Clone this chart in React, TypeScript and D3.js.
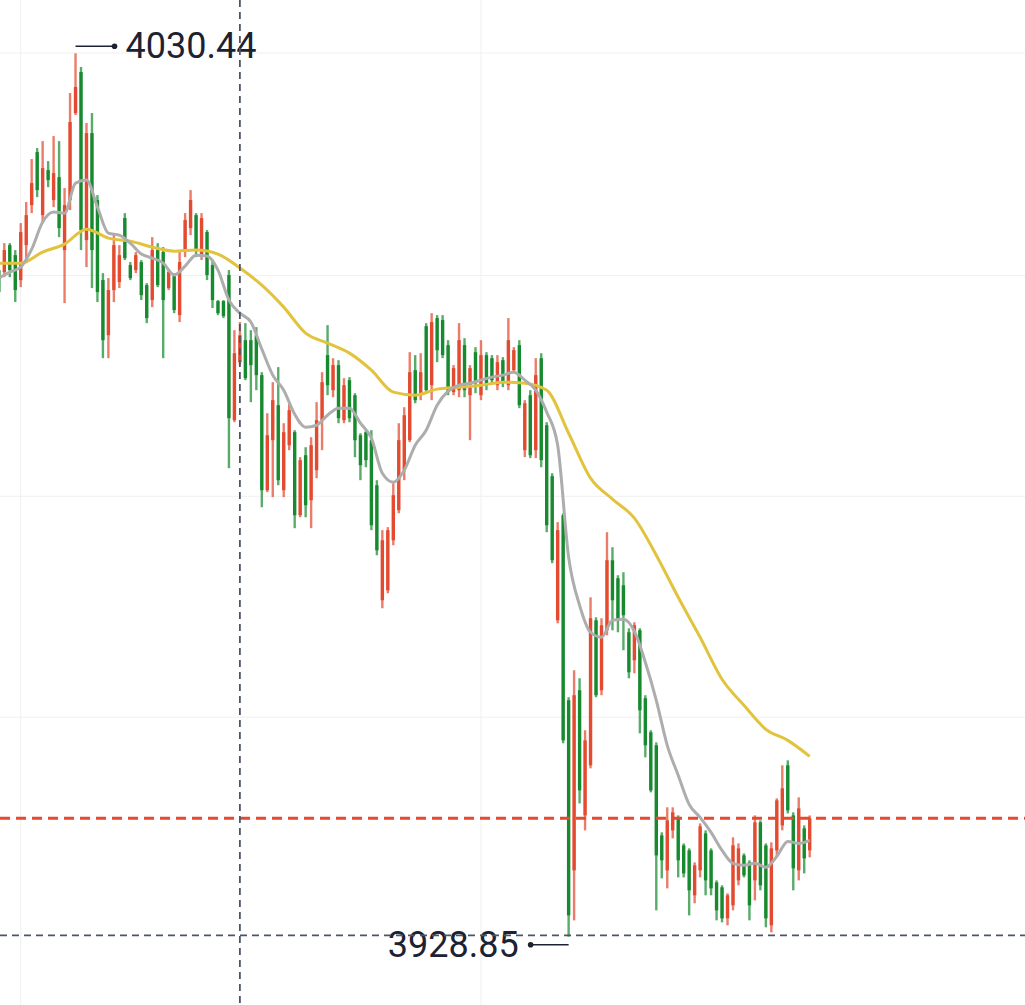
import React from "react";
import * as d3 from "d3";

const W = 1025;
const H = 1005;

// OHLC, one entry per candle (index 0 is the half-visible candle at the left edge)
const opens = [4005.51,4005.28,4008.38,4007.23,4004.36,4008.38,4012.98,4019.08,4011.83,4017.01,4013.56,4016.2,4007.81,4013.56,4023.57,4028.29,4008.96,4021.26,4013.56,4004.36,3998.02,4003.21,4004.13,4011.49,4006.08,4005.51,4006.43,4003.78,4002.06,4007.81,4007.58,4003.44,4004.82,4000.33,4007.81,4010.34,4011.83,4007.23,4009.88,4006.08,4001.94,4001.94,4004.94,3988.25,3994.92,3997.45,3997.45,3998.02,3993.43,3980.2,3985.95,3989.97,3980.2,3985.37,3986.87,3977.32,3984.22,3979.05,3982.5,3988.25,3995.73,3991.7,3994.58,3988.25,3992.85,3991.12,3986.52,3986.87,3985.95,3980.77,3967.54,3968.69,3974.44,3977.9,3982.5,3985.95,3994.0,3991.12,3999.06,3992.27,3999.99,3999.76,3996.88,3991.47,3991.7,3996.88,3991.12,3996.07,3991.12,3995.73,3995.38,3992.27,3995.15,3992.27,3994.0,3996.88,3984.8,3991.12,3984.8,3995.38,3987.67,3981.81,3965.24,3977.32,3956.04,3936.48,3957.19,3942.8,3948.56,3965.24,3957.19,3964.09,3972.14,3970.07,3969.26,3963.86,3960.64,3964.09,3956.27,3952.36,3950.86,3940.5,3936.48,3941.08,3942.46,3939.35,3938.78,3933.61,3936.48,3940.73,3938.78,3935.1,3934.53,3930.96,3932.46,3935.33,3938.2,3937.4,3935.33,3942.0,3939.35,3930.16,3938.78,3941.65,3948.56,3942.8,3936.48,3941.31,3938.78];
const highs = [4006.43,4008.61,4008.61,4007.81,4010.91,4013.33,4018.28,4019.54,4020.34,4018.04,4020.92,4020.34,4014.94,4025.87,4030.44,4028.87,4022.42,4023.57,4014.13,4005.16,4004.59,4009.76,4008.38,4012.06,4006.43,4007.58,4006.66,4004.01,4009.3,4008.61,4008.15,4005.51,4005.16,4007.81,4012.06,4014.71,4012.06,4012.06,4010.11,4006.66,4002.06,4002.06,4005.51,3998.6,3999.53,3999.41,3998.6,3998.95,3993.77,3989.05,3992.62,3994.35,3987.9,3990.2,3987.1,3984.0,3985.14,3986.29,3990.32,3993.77,3999.18,3995.38,3995.15,3993.08,3993.2,3991.35,3986.75,3987.1,3987.1,3981.35,3975.6,3975.95,3980.99,3987.9,3989.74,3996.07,3995.73,3995.95,3999.41,4000.56,4000.33,4000.33,3997.45,3994.58,3999.41,3997.68,3994.58,3996.65,3997.45,3996.07,3995.73,3995.73,3995.5,3999.99,3996.65,3997.45,3990.55,3991.7,3995.38,3995.95,3988.02,3982.15,3976.52,3977.55,3956.39,3959.49,3958.57,3952.59,3967.88,3965.58,3965.47,3975.37,3973.64,3970.42,3970.76,3964.32,3965.01,3964.32,3956.62,3952.59,3951.2,3940.85,3943.73,3943.73,3942.8,3939.58,3939.01,3937.4,3941.88,3941.08,3939.01,3935.33,3934.76,3933.84,3940.28,3939.58,3938.43,3937.63,3942.8,3942.23,3939.58,3939.7,3944.76,3948.56,3949.13,3943.15,3944.87,3941.65,3942.8];
const lows = [4002.06,4004.7,4004.7,4001.83,4003.55,4006.31,4012.06,4013.9,4010.91,4015.05,4012.75,4009.3,4001.71,4012.41,4023.34,4007.81,4005.85,4003.44,4001.83,3995.38,3995.38,4001.83,4003.44,4006.66,4004.36,4005.16,4002.06,3999.41,4001.25,4003.55,3995.38,4003.21,4000.56,3999.53,4007.0,4009.53,4007.0,4006.66,4004.36,4001.14,4000.33,3999.99,3982.73,3988.02,3994.58,3992.85,3990.32,3991.7,3978.24,3979.97,3979.4,3980.77,3979.4,3984.8,3975.83,3977.09,3977.09,3975.83,3981.58,3984.8,3991.12,3990.89,3987.9,3987.9,3988.02,3983.99,3981.35,3982.84,3975.6,3972.72,3966.62,3968.34,3973.87,3977.55,3981.35,3985.72,3990.2,3990.55,3991.35,3990.55,3994.92,3995.38,3991.12,3991.12,3990.89,3990.89,3985.95,3991.35,3990.55,3991.7,3992.5,3991.7,3992.04,3991.7,3993.66,3989.63,3984.0,3983.88,3983.88,3982.84,3975.37,3971.8,3964.89,3951.09,3928.85,3930.73,3944.18,3941.08,3948.21,3956.39,3956.62,3963.52,3964.09,3963.86,3961.79,3958.57,3959.14,3952.24,3949.48,3945.45,3931.88,3935.56,3934.41,3940.16,3935.67,3935.67,3931.3,3932.69,3935.67,3933.61,3933.61,3930.73,3930.5,3930.16,3931.88,3934.76,3935.67,3930.73,3933.03,3934.18,3929.93,3929.35,3937.98,3941.08,3943.03,3934.18,3935.33,3936.13,3937.98];
const closes = [4002.98,4007.81,4005.51,4003.21,4009.88,4011.83,4015.51,4014.71,4017.24,4015.86,4016.66,4010.34,4012.98,4022.54,4026.56,4010.11,4021.26,4007.81,4002.98,3997.45,4003.21,4008.38,4007.23,4006.89,4004.59,4007.23,4002.63,3999.99,4007.81,4003.78,4002.06,4005.28,4000.91,4006.43,4011.26,4013.56,4007.81,4011.49,4004.94,4002.06,4000.56,4000.22,3988.48,3995.95,3998.02,3993.08,3994.58,3993.43,3980.2,3986.52,3990.55,3981.35,3986.87,3989.4,3977.32,3983.65,3978.47,3985.37,3988.25,3992.62,3992.27,3994.58,3988.48,3992.27,3988.48,3985.95,3983.07,3983.65,3976.17,3973.29,3974.44,3975.6,3979.62,3985.95,3988.82,3993.77,3990.55,3993.77,3991.7,3999.53,3996.3,3995.73,3991.47,3994.23,3997.45,3991.7,3994.23,3992.5,3995.73,3992.27,3992.85,3994.92,3992.5,3997.45,3996.3,3989.97,3990.2,3984.22,3993.43,3983.65,3976.17,3972.14,3975.6,3951.43,3931.3,3956.62,3945.68,3951.43,3965.47,3956.62,3964.66,3972.14,3967.54,3965.24,3965.82,3959.26,3964.66,3954.89,3950.86,3945.68,3938.2,3937.63,3942.23,3943.15,3937.63,3936.13,3934.18,3937.06,3941.54,3935.33,3934.41,3931.88,3930.96,3933.61,3939.35,3939.01,3935.9,3932.46,3942.0,3934.76,3930.96,3939.01,3944.53,3945.91,3943.38,3936.71,3943.61,3937.86,3942.46];

// short moving average (grey), read every 2nd candle
const maShortStep = 2;
const maShort = [4004.59,4005.28,4005.85,4007.92,4011.03,4012.18,4012.06,4015.51,4015.86,4012.75,4009.76,4009.53,4008.61,4007.35,4006.89,4006.31,4004.94,4005.97,4007.23,4007.12,4005.51,4002.06,4000.56,3999.53,3996.42,3993.43,3991.7,3988.94,3987.44,3987.67,3988.82,3989.63,3989.63,3987.9,3986.18,3982.15,3981.12,3982.5,3985.37,3987.1,3989.97,3991.58,3992.27,3992.5,3992.85,3993.2,3993.43,3993.77,3992.85,3991.7,3989.17,3985.37,3972.49,3966.97,3963.86,3963.28,3965.24,3965.35,3963.97,3960.41,3956.04,3950.86,3947.41,3944.07,3942.57,3940.85,3938.78,3937.29,3937.06,3937.29,3936.83,3938.09,3939.81,3939.58,3939.93];
// long moving average (yellow), read every 4th candle
const maLongStep = 4;
const maLong = [4006.31,4006.31,4007.58,4008.5,4010.22,4009.19,4008.84,4008.15,4007.69,4007.81,4007.35,4005.74,4003.78,4001.25,3998.26,3997.11,3995.96,3994.0,3991.47,3991.12,3991.82,3992.04,3992.27,3992.62,3992.5,3991.7,3986.75,3981.58,3979.17,3976.98,3972.72,3967.88,3963.28,3958.45,3955.46,3952.7,3951.43,3949.59];

const gridPrices = [4030.47, 4004.9, 3979.5, 3954.1];
const gridCandles = [4, 88];
const crosshairCandle = 44;
const crosshairPrice = 3929.0;
const highCandle = 14;
const lowCandle = 104;
const highLabel = "4030.44";
const lowLabel = "3928.85";

const UP = "#e34a2f";
const DOWN = "#178a2f";

export default function App() {
  const n = opens.length;
  const x = d3.scaleLinear().domain([0, n - 1]).range([-1.18, 809.7]);
  const y = d3.scaleLinear().domain([3928.85, 4030.44]).range([936.7, 53.3]);

  const shortLine = d3
    .line<number>()
    .x((_, i) => x(i * maShortStep))
    .y((d) => y(d))
    .curve(d3.curveMonotoneX);
  const longLine = d3
    .line<number>()
    .x((_, i) => x(i * maLongStep))
    .y((d) => y(d))
    .curve(d3.curveMonotoneX);

  const last = closes[n - 1];
  const lastUp = closes[n - 1] >= opens[n - 1];
  const hx = x(highCandle);
  const hy = y(highs[highCandle]) - 7;
  const lx = x(lowCandle);
  const ly = y(lows[lowCandle]) + 8;
  const ink = "#1c2232";

  return (
    <svg
      width={W}
      height={H}
      style={{ position: "absolute", left: 0, top: 0, background: "#ffffff" }}
    >
      <rect x={0} y={0} width={W} height={H} fill="#ffffff" />
      {gridPrices.map((p, i) => (
        <line key={"gh" + i} x1={0} x2={W} y1={y(p)} y2={y(p)} stroke="#f0f0f0" strokeWidth={1} />
      ))}
      {gridCandles.map((c, i) => (
        <line key={"gv" + i} x1={x(c)} x2={x(c)} y1={0} y2={H} stroke="#f0f0f0" strokeWidth={1} />
      ))}
      {opens.map((o, i) => {
        const c = closes[i];
        const up = c >= o;
        const col = up ? UP : DOWN;
        const top = y(Math.max(o, c));
        const bot = y(Math.min(o, c));
        return (
          <g key={"c" + i}>
            <line x1={x(i)} x2={x(i)} y1={y(highs[i])} y2={y(lows[i])} stroke={col} strokeWidth={2.4} strokeOpacity={0.72} />
            <rect x={x(i) - 1.7} y={top} width={3.4} height={Math.max(1, bot - top)} fill={col} />
          </g>
        );
      })}
      <path d={longLine(maLong) || ""} fill="none" stroke="#e2c33d" strokeWidth={3} strokeLinejoin="round" />
      <path d={shortLine(maShort) || ""} fill="none" stroke="#adadad" strokeWidth={3} strokeLinejoin="round" />
      <line x1={0} x2={W} y1={y(last)} y2={y(last)} stroke={lastUp ? UP : DOWN} strokeWidth={3} strokeDasharray="10 6" />
      <line x1={hx} x2={hx + 37} y1={hy} y2={hy} stroke={ink} strokeWidth={1.6} />
      <circle cx={hx + 39} cy={hy} r={2.8} fill={ink} />
      <text x={hx + 50} y={hy} dominantBaseline="central" fontFamily="Roboto, sans-serif" fontSize={36} fill={ink}>
        {highLabel}
      </text>
      <line x1={lx} x2={lx - 36} y1={ly} y2={ly} stroke={ink} strokeWidth={1.6} />
      <circle cx={lx - 38} cy={ly} r={2.8} fill={ink} />
      <text x={lx - 50} y={ly} dominantBaseline="central" textAnchor="end" fontFamily="Roboto, sans-serif" fontSize={36} fill={ink}>
        {lowLabel}
      </text>
      <line x1={x(crosshairCandle)} x2={x(crosshairCandle)} y1={0} y2={H} stroke="#4d5565" strokeWidth={1.8} strokeDasharray="7 5" />
      <line x1={0} x2={W} y1={y(crosshairPrice)} y2={y(crosshairPrice)} stroke="#4d5565" strokeWidth={1.8} strokeDasharray="7 5" />
    </svg>
  );
}
